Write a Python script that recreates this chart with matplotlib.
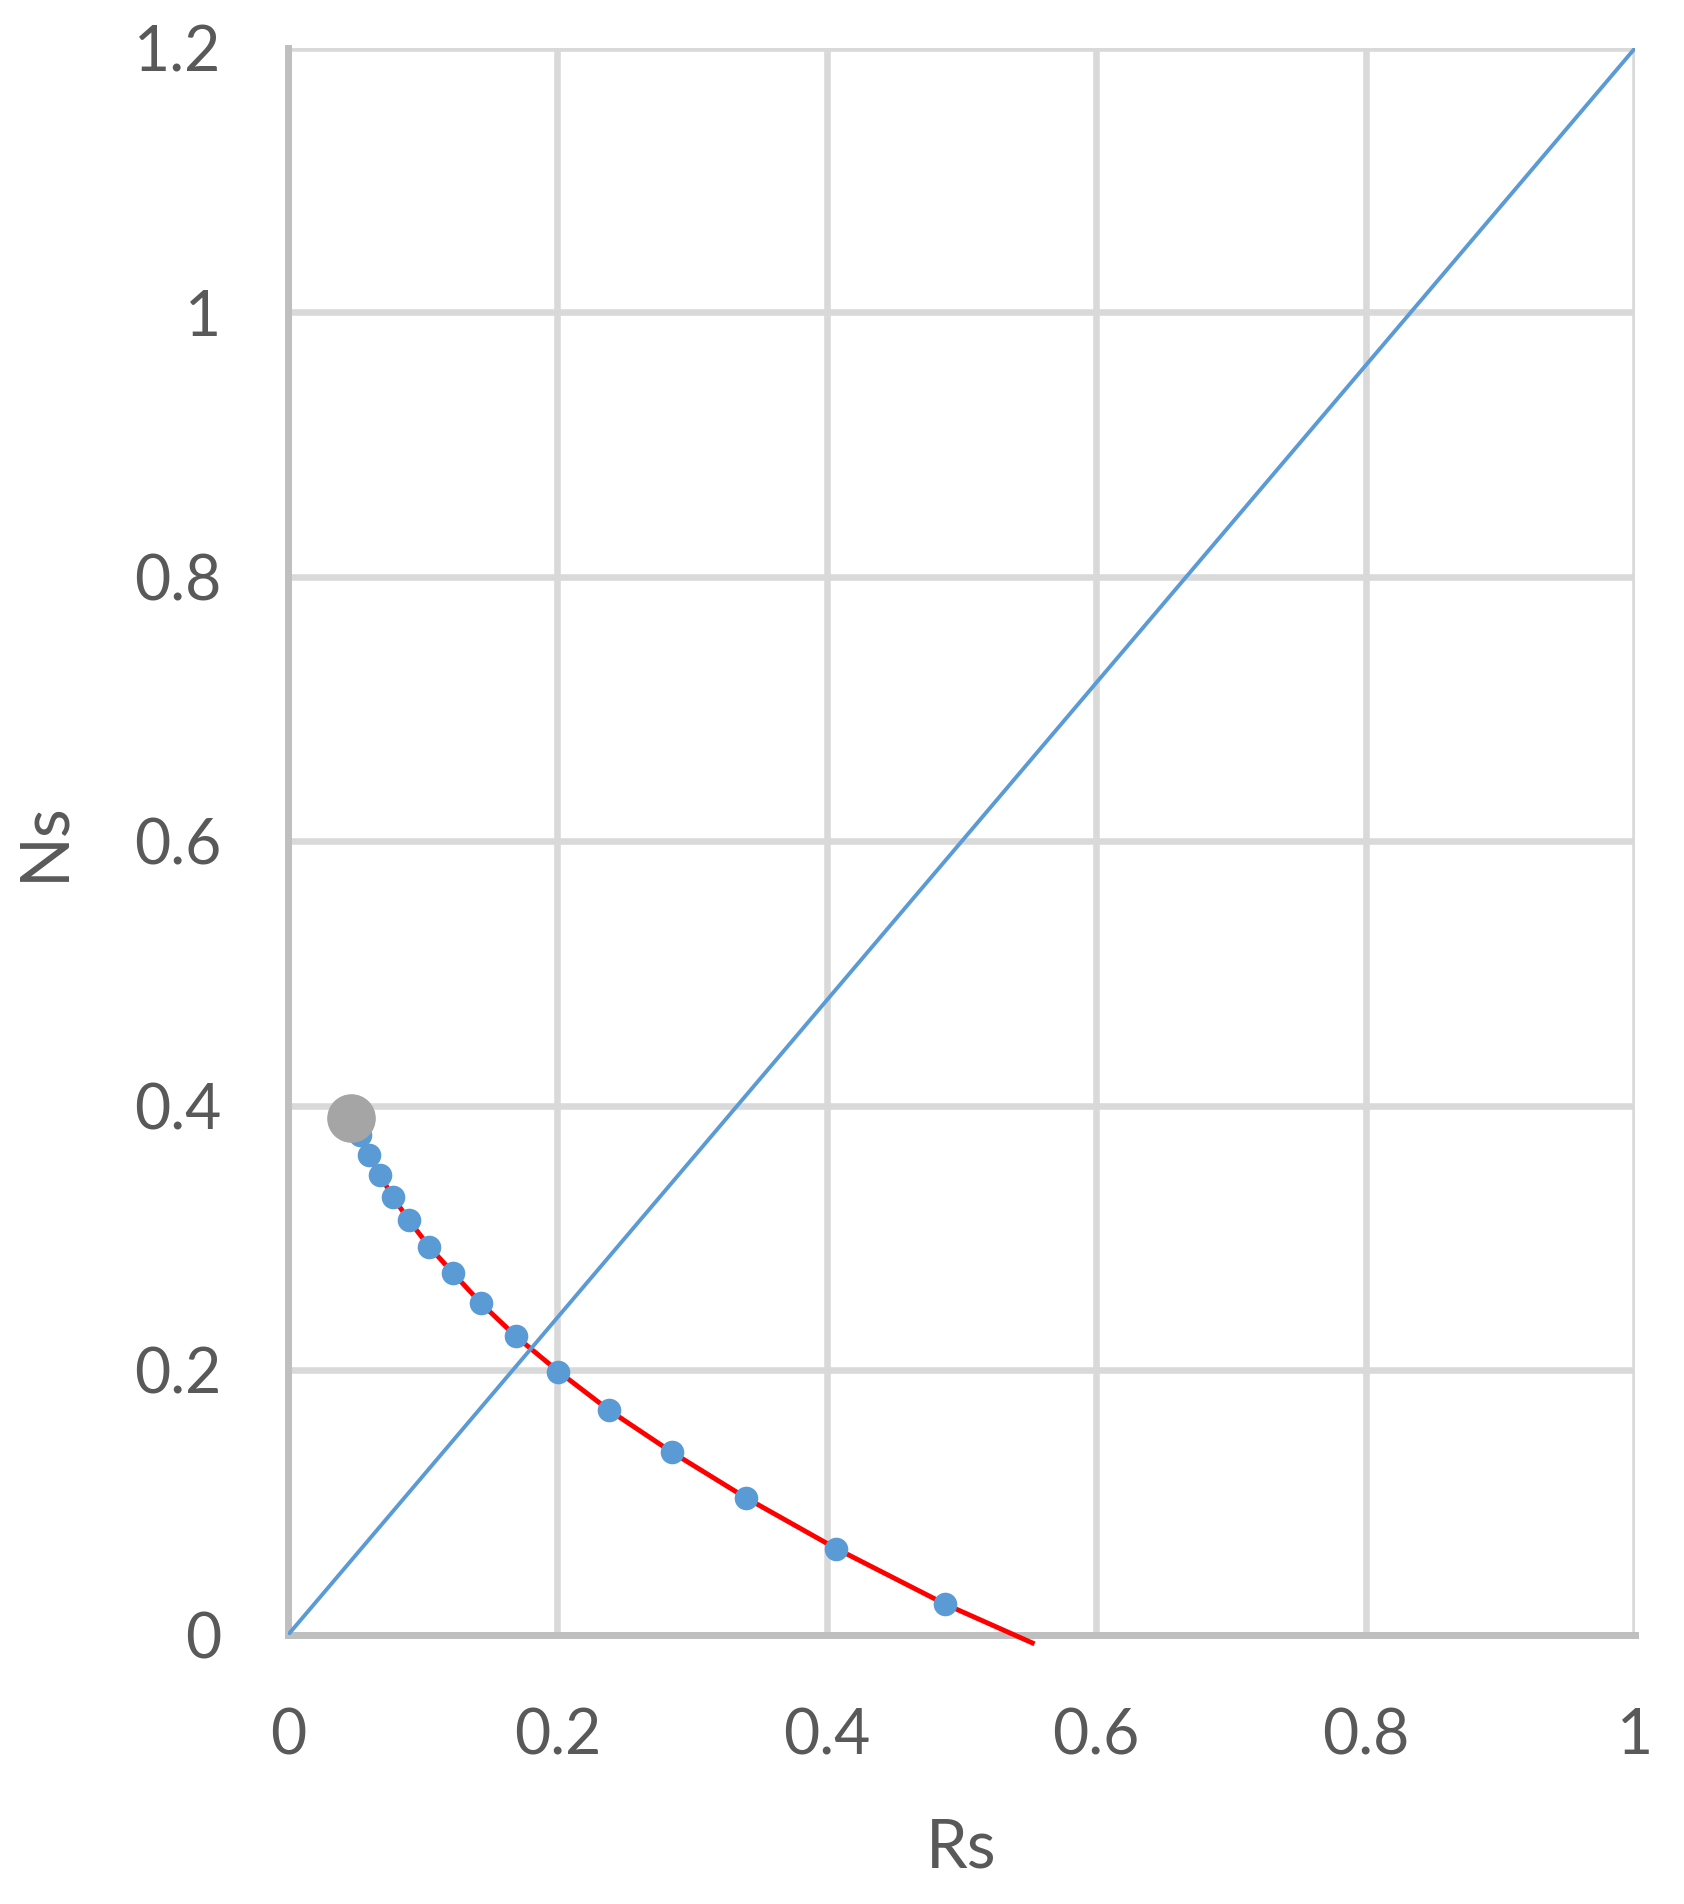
import matplotlib
matplotlib.use('Agg')
import matplotlib.pyplot as plt
import numpy as np

plt.rcParams['font.family'] = ['Lato', 'DejaVu Sans']

# blue data points (Rs, Ns)
rs = np.array([0.0535, 0.060, 0.0683, 0.078, 0.0899, 0.1048, 0.1226, 0.1433,
               0.1693, 0.2008, 0.2383, 0.2847, 0.3401, 0.407, 0.488])
ns = np.array([0.378, 0.3626, 0.3477, 0.331, 0.3134, 0.2937, 0.2736, 0.2508,
               0.2257, 0.1992, 0.170, 0.1384, 0.1036, 0.0653, 0.0232])

# big gray point
rs_gray = [0.0468]
ns_gray = [0.391]

# red curve
red_x = [0.0468, 0.0535, 0.060, 0.0683, 0.078, 0.0899, 0.1048, 0.1226, 0.1433,
         0.1693, 0.2008, 0.2383, 0.2847, 0.3401, 0.407, 0.488, 0.5525]
red_y = [0.391, 0.378, 0.3626, 0.3477, 0.331, 0.3134, 0.2937, 0.2736, 0.2508,
         0.2257, 0.1992, 0.170, 0.1384, 0.1036, 0.0653, 0.0232, -0.006]

# diagonal reference line
diag_x = [0, 1]
diag_y = [0, 1.2]

xticks = [0, 0.2, 0.4, 0.6, 0.8, 1]
xticklabels = ['0', '0.2', '0.4', '0.6', '0.8', '1']
yticks = [0, 0.2, 0.4, 0.6, 0.8, 1, 1.2]
yticklabels = ['0', '0.2', '0.4', '0.6', '0.8', '1', '1.2']

text_col = '#595959'
grid_col = '#D9D9D9'
axis_col = '#BFBFBF'

fig = plt.figure(figsize=(16.84, 19.04), dpi=100)
ax = fig.add_axes([0.171, 0.1413, 0.800, 0.8335])

ax.plot(red_x, red_y, color='#FF0000', lw=3.5, zorder=3, clip_on=False,
        solid_joinstyle='round')
ax.plot(rs, ns, 'o', color='#5B9BD5', ms=17, mec='none', zorder=4)
ax.plot(rs_gray, ns_gray, 'o', color='#A5A5A5', ms=35, mec='none', zorder=5)
ax.plot(diag_x, diag_y, color='#5B9BD5', lw=2.8, zorder=6)

ax.set_xlim(0, 1)
ax.set_ylim(0, 1.2)
ax.set_xticks(xticks)
ax.set_xticklabels(xticklabels)
ax.set_yticks(yticks)
ax.set_yticklabels(yticklabels)
ax.grid(True, color=grid_col, lw=4.7, zorder=0)
ax.set_axisbelow(True)
for s in ['top', 'right']:
    ax.spines[s].set_visible(False)
for s in ['left', 'bottom']:
    ax.spines[s].set_color(axis_col)
    ax.spines[s].set_linewidth(5)
    ax.spines[s].set_zorder(1)
ax.tick_params(length=0, labelsize=45, colors=text_col)
ax.tick_params(axis='y', pad=48)
ax.tick_params(axis='x', pad=52)

ax.set_xlabel('Rs', fontsize=48, color=text_col, labelpad=38)
ax.set_ylabel('Ns', fontsize=48, color=text_col, labelpad=42)

fig.savefig('out.png', dpi=100, facecolor='white')
